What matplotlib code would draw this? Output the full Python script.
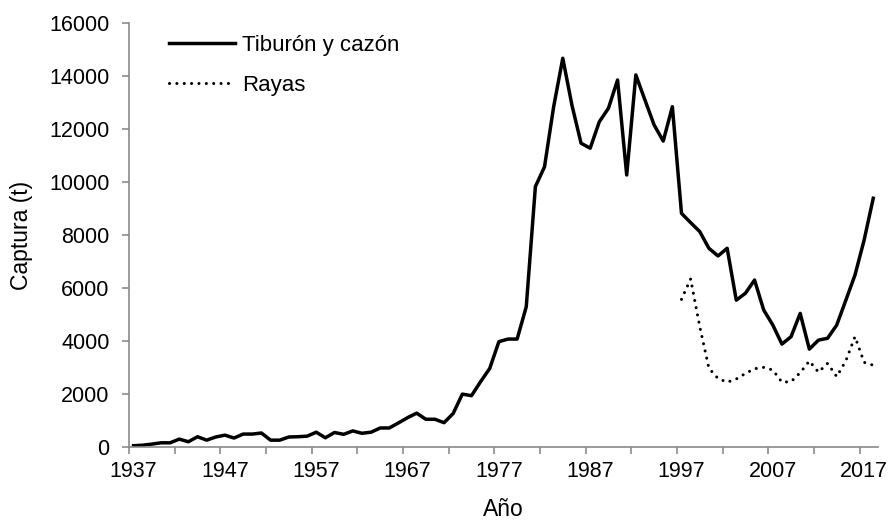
import numpy as np
import matplotlib.pyplot as plt

plt.rcParams['font.family'] = ['Liberation Sans', 'DejaVu Sans']

# Catch per year (t)
years = list(range(1937, 2019))
tiburon = [40, 60, 100, 150, 150, 290, 190, 380, 250, 370,
           440, 330, 480, 480, 520, 250, 250, 370, 380, 400,
           550, 340, 540, 470, 600, 510, 550, 710, 710, 900,
           1100, 1270, 1040, 1040, 910, 1260, 1990, 1930, 2460, 2960,
           3970, 4070, 4070, 5290, 9830, 10580, 12850, 14680, 12910, 11470,
           11280, 12280, 12790, 13860, 10270, 14050, 13100, 12160, 11550, 12850,
           8820, 8470, 8130, 7500, 7210, 7500, 5540, 5800, 6300, 5170,
           4600, 3880, 4160, 5040, 3690, 4030, 4100, 4600, 5540, 6490,
           7810, 9390]

rayas_years = list(range(1997, 2019))
rayas = [5570, 6340, 4540, 2970, 2580, 2440, 2560, 2770, 2950, 3000,
         2900, 2440, 2460, 2800, 3240, 2820, 3150, 2650, 3250, 4160,
         3190, 3080]

fig = plt.figure(figsize=(8.93, 5.25), dpi=100)
ax = fig.add_axes([0.1445, 0.149, 0.8385, 0.8066])

ax.plot(years, tiburon, color='black', lw=2.5, label='Tiburón y cazón')
ax.plot(rayas_years, rayas, color='black', lw=2.2, linestyle=(0, (0.01, 2.4)),
        dash_capstyle='round', label='Rayas')

ax.set_xlim(1936.5, 2018.5)
ax.set_ylim(0, 16000)

ax.set_yticks(np.arange(0, 16001, 2000))
ax.set_xticks(range(1937, 2019, 10))
ax.set_xticks(np.arange(1936.5, 2018, 5), minor=True)

gray = '#8a8a8a'
for s in ['top', 'right']:
    ax.spines[s].set_visible(False)
for s in ['left', 'bottom']:
    ax.spines[s].set_color(gray)
    ax.spines[s].set_linewidth(1.2)

ax.tick_params(axis='x', which='major', length=0, labelsize=15.5, pad=10)
ax.tick_params(axis='x', which='minor', length=5, width=1.2, color=gray, direction='out')
ax.tick_params(axis='y', length=5, width=1.2, color=gray, labelsize=15.5, pad=9)

ax.set_xlabel('Año', fontsize=16.5, labelpad=12)
ax.set_ylabel('Captura (t)', fontsize=16.5, labelpad=12)

ax.legend(loc='upper left', bbox_to_anchor=(0.026, 1.02), frameon=False,
          fontsize=16, handlelength=3.0, handletextpad=0.3, labelspacing=0.85)

fig.savefig('out.png', dpi=100)
